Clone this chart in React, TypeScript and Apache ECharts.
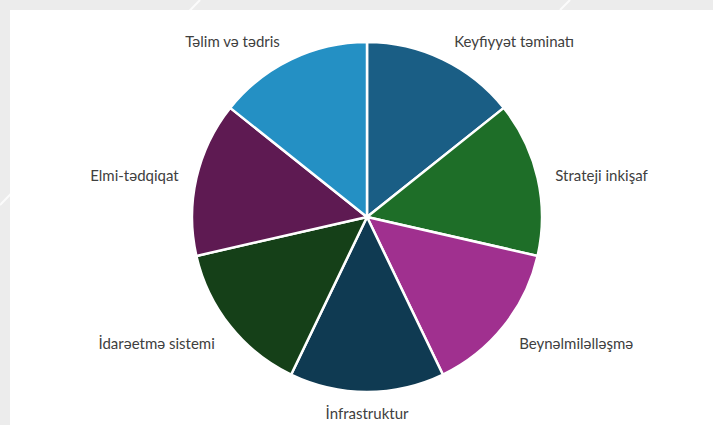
import React, { useEffect, useRef } from "react";
import * as echarts from "echarts";

const categories = [
  "Keyfiyyət təminatı",
  "Strateji inkişaf",
  "Beynəlmiləlləşmə",
  "İnfrastruktur",
  "İdarəetmə sistemi",
  "Elmi-tədqiqat",
  "Təlim və tədris",
];
const values = [1, 1, 1, 1, 1, 1, 1];
const colors = ["#1a5e85", "#1e6e28", "#a0308f", "#0f3a52", "#154018", "#5e1a52", "#2490c4"];

export default function App() {
  const ref = useRef<HTMLDivElement>(null);
  useEffect(() => {
    if (!ref.current) return;
    const chart = echarts.init(ref.current, null, { renderer: "svg" });
    chart.setOption({
      animation: false,
      backgroundColor: "#ececec",
      graphic: [
        { type: "line", shape: { x1: 200, y1: 0, x2: 0, y2: 205 }, style: { stroke: "#ffffff", lineWidth: 2, opacity: 0.8 }, z: 0 },
        { type: "line", shape: { x1: 570, y1: 0, x2: 560, y2: 10 }, style: { stroke: "#ffffff", lineWidth: 2, opacity: 0.8 }, z: 0 },
        { type: "rect", shape: { x: 10, y: 10, width: 703, height: 415 }, style: { fill: "#ffffff" }, z: 1 },
      ],
      series: [
        {
          type: "pie",
          center: [367, 217],
          radius: 175,
          startAngle: 90,
          clockwise: true,
          avoidLabelOverlap: false,
          z: 5,
          data: categories.map((name, i) => ({
            name,
            value: values[i],
            itemStyle: { color: colors[i] },
          })),
          itemStyle: { borderColor: "#ffffff", borderWidth: 2.5 },
          label: {
            show: true,
            position: "outside",
            formatter: "{b}",
            color: "#404040",
            fontFamily: "Lato",
            fontSize: 15,
            distanceToLabelLine: 5,
          },
          labelLine: { show: false, length: 12, length2: 1 },
          labelLayout: (params: any) => {
            const i = params.dataIndex;
            if (i === 3) {
              return {
                x: params.rect.x + params.rect.width / 2,
                y: params.rect.y + params.rect.height + 20,
                align: "center",
                verticalAlign: "middle",
              };
            }
            if (i === 0 || i === 6) return { dy: -8 };
            if (i === 2 || i === 4) return { dy: 9 };
            return {};
          },
        },
      ],
    });
    return () => chart.dispose();
  }, []);
  return (
    <div
      ref={ref}
      style={{ position: "fixed", left: 0, top: 0, width: 713, height: 425 }}
    />
  );
}
